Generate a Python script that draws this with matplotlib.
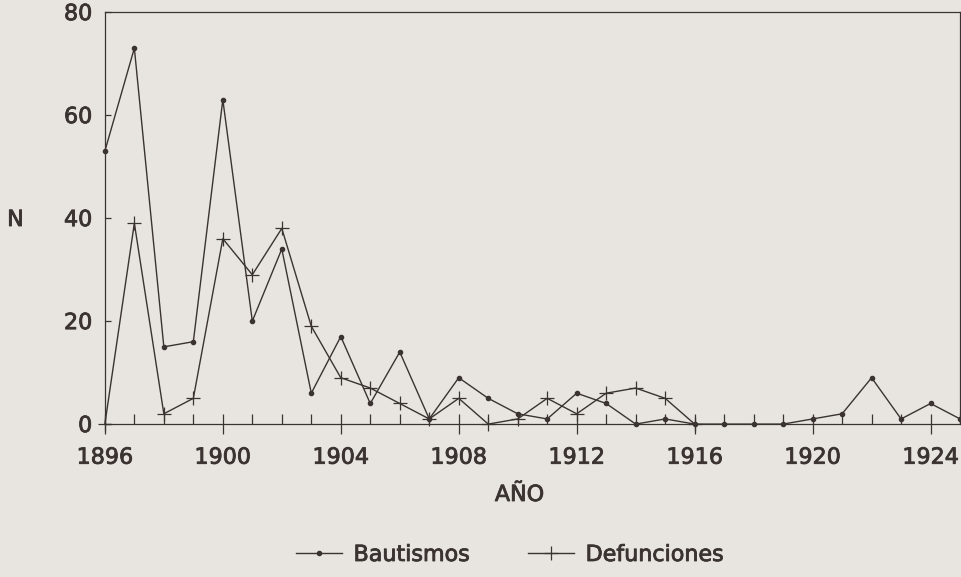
import matplotlib
matplotlib.use("Agg")
import matplotlib.pyplot as plt
import matplotlib.patheffects as pe
from matplotlib.ticker import MultipleLocator

# datos
years_baut = list(range(1896, 1926))
bautismos = [53, 73, 15, 16, 63, 20, 34, 6, 17, 4,
             14, 1, 9, 5, 2, 1, 6, 4, 0, 1,
             0, 0, 0, 0, 1, 2, 9, 1, 4, 1]

years_def = list(range(1896, 1917))
defunciones = [0, 39, 2, 5, 36, 29, 38, 19, 9, 7,
               4, 1, 5, 0, 1, 5, 2, 6, 7, 5, 0]

x_ticks = [1896, 1900, 1904, 1908, 1912, 1916, 1920, 1924]
y_ticks = [0, 20, 40, 60, 80]

bg = "#e8e5e0"
ink = "#3a3331"

plt.rcParams["font.family"] = "DejaVu Sans"

fig = plt.figure(figsize=(9.62, 5.77), dpi=100, facecolor=bg)
ax = fig.add_axes([0.109, 0.265, 0.889, 0.714])
ax.set_facecolor(bg)

b_line, = ax.plot(years_baut, bautismos, color=ink, lw=1.0, marker="o",
                  ms=3, mfc=ink, mec=ink, label="Bautismos", clip_on=False)
d_line, = ax.plot(years_def, defunciones, color=ink, lw=1.0, marker="+",
                  ms=10, mew=0.9, label="Defunciones", clip_on=False)

ax.set_xlim(1896, 1925)
ax.set_ylim(0, 80)
ax.set_xticks(x_ticks)
ax.xaxis.set_minor_locator(MultipleLocator(1))
ax.set_yticks(y_ticks)

ax.tick_params(axis="x", which="major", direction="inout", length=15,
               width=0.9, color=ink, labelsize=16, labelcolor=ink, pad=9.5)
ax.tick_params(axis="x", which="minor", direction="in", length=7,
               width=0.9, color=ink)
ax.tick_params(axis="y", direction="in", length=4.5, width=0.9, color=ink,
               labelsize=16, labelcolor=ink, pad=9)

for s in ax.spines.values():
    s.set_color(ink)
    s.set_linewidth(0.9)

fig.text(0.54, 1 - 495 / 577, "AÑO", ha="center", va="center",
         fontsize=16, color=ink)
fig.text(0.016, 1 - 220 / 577, "N", ha="center", va="center",
         fontsize=16, color=ink)

leg = fig.legend(handles=[b_line, d_line], loc="center",
                 bbox_to_anchor=(0.53, 1 - 555 / 577), ncol=2, frameon=False,
                 fontsize=16, labelcolor=ink, handlelength=2.1,
                 handletextpad=0.5, columnspacing=2.6)

# texto algo mas grueso, como en la figura impresa
thick = [pe.withStroke(linewidth=0.6, foreground=ink)]
for t in ax.get_xticklabels() + ax.get_yticklabels() + leg.get_texts() + fig.texts:
    t.set_path_effects(thick)

fig.savefig("out.png", dpi=100, facecolor=bg)
